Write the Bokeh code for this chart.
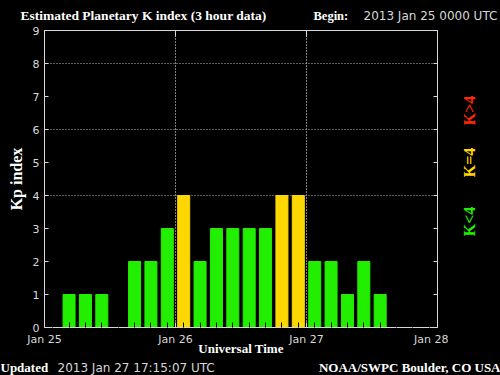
import math
from bokeh.plotting import figure
from bokeh.models import (ColumnDataSource, FixedTicker, LinearAxis, Range1d, Grid)
from bokeh.layouts import column, row
from bokeh.core.properties import value
from bokeh.embed import file_html
from bokeh.resources import INLINE

# ---- data ----
title_text = "Estimated Planetary K index (3 hour data)"
begin_label = "2013 Jan 25 0000 UTC"
updated_label = "2013 Jan 27 17:15:07 UTC"
credit_text = "NOAA/SWPC Boulder, CO USA"
day_ticks = [0, 24, 48, 72]               # hours since begin
day_labels = ["Jan 25", "Jan 26", "Jan 27", "Jan 28"]
slot_hours = 3
kp_values = [0, 1, 1, 1, 0, 2, 2, 3,
             4, 2, 3, 3, 3, 3, 4, 4,
             2, 2, 1, 2, 1]
legend_texts = ["K<4", "K=4", "K>4"]
legend_colors = ["#22ee00", "#ffd700", "#ff2a00"]

# ---- layout (pixels) ----
W, H = 500, 375
TOP_H = 23
BOT_H = 17
MAIN_H = H - TOP_H - BOT_H
MAIN_W = 448
LEG_W = W - MAIN_W
FL, FR = 44, 437
FT, FB = 30, 327                      # frame top / bottom on the page
MB_TOP = FT - TOP_H
MB_BOT = TOP_H + MAIN_H - FB

AX = "#d8d8d8"
SERIF = "Liberation Serif"
SANS = "DejaVu Sans"
BLACK = {"background-color": "black"}


def colour(v):
    if v < 4:
        return legend_colors[0]
    if v == 4:
        return legend_colors[1]
    return legend_colors[2]


def strip(w, h, top=0, bottom=0):
    f = figure(width=w, height=h, x_range=Range1d(0, w),
               y_range=Range1d(0, h - top - bottom),
               output_backend="svg", toolbar_location=None,
               min_border=0, min_border_left=0, min_border_right=0,
               min_border_top=top, min_border_bottom=bottom,
               background_fill_color="black", border_fill_color="black",
               x_axis_location=None, y_axis_location=None, styles=BLACK)
    f.outline_line_color = None
    f.grid.visible = False
    return f


def txt(f, base, text, x, y, size, font=SERIF, style="bold", align="left",
        color="white", angle=0.0):
    # base: page y of the strip frame's bottom edge
    f.text(x=[x], y=[base - y], text=[text], text_font=value(font),
           text_font_style=style, text_font_size=f"{size}px",
           text_color=color, text_align=align, text_baseline="middle",
           angle=angle)


# ---- top strip ----
top = strip(W, TOP_H)
txt(top, TOP_H, title_text, 20, 15, 13.5)
txt(top, TOP_H, "Begin:", 313, 15, 12.5)
txt(top, TOP_H, begin_label, 363, 15, 12, font=SANS, style="normal", color=AX)

# ---- main plot ----
centers = [i * slot_hours + slot_hours / 2 for i in range(len(kp_values))]
src = ColumnDataSource(dict(x=centers, top=kp_values,
                            color=[colour(v) for v in kp_values]))

p = figure(width=MAIN_W, height=MAIN_H,
           min_border_left=FL, min_border_top=MB_TOP,
           min_border_right=MAIN_W - FR, min_border_bottom=MB_BOT,
           x_range=Range1d(day_ticks[0], day_ticks[-1]), y_range=Range1d(0, 9),
           output_backend="svg", toolbar_location=None,
           background_fill_color="black", border_fill_color="black",
           x_axis_location=None, y_axis_location=None, styles=BLACK)
p.outline_line_color = AX
p.xgrid.visible = False
p.ygrid.visible = False

p.vbar(x="x", top="top", width=2.2, bottom=0, color="color", source=src)

all_slots = [i * slot_hours + slot_hours / 2 for i in range(24)]


def mk_axis(ticks, minor=None, labels=True, overrides=None):
    ax = LinearAxis(ticker=FixedTicker(ticks=ticks, minor_ticks=minor or []))
    ax.axis_line_color = AX
    ax.major_tick_line_color = AX
    ax.major_tick_in = 5
    ax.major_tick_out = 0
    ax.minor_tick_in = 5
    ax.minor_tick_out = 0
    ax.minor_tick_line_color = "black"
    ax.major_label_text_color = AX
    ax.major_label_text_font = SANS
    ax.major_label_text_font_size = "11px"
    ax.axis_label_text_color = "white"
    ax.axis_label_text_font = SERIF
    ax.axis_label_text_font_style = "bold"
    if overrides:
        ax.major_label_overrides = overrides
    if not labels:
        ax.major_label_overrides = {t: "" for t in ticks}
        ax.major_label_text_font_size = "0px"
        ax.major_label_standoff = 0
        ax.axis_label_standoff = 0
    return ax


xb = mk_axis(day_ticks, minor=all_slots,
             overrides={t: l for t, l in zip(day_ticks, day_labels)})
xb.major_label_standoff = 5
xb.axis_label = "Universal Time"
xb.axis_label_text_font_size = "13px"
xb.axis_label_standoff = -8
p.add_layout(xb, "below")

xt = mk_axis(day_ticks, labels=False)
xt.major_tick_in = 6
p.add_layout(xt, "above")

yl = mk_axis(list(range(10)))
yl.major_tick_in = 4
yl.major_label_standoff = 5
yl.axis_label = "Kp index"
yl.axis_label_text_font_size = "16px"
yl.axis_label_standoff = 5
p.add_layout(yl, "left")

yr = mk_axis(list(range(10)), labels=False)
yr.major_tick_in = 4
p.add_layout(yr, "right")

p.add_layout(Grid(dimension=0, ticker=FixedTicker(ticks=day_ticks[1:-1]),
                  grid_line_color="white", grid_line_dash="1 2"))
p.add_layout(Grid(dimension=1, ticker=FixedTicker(ticks=[4, 6, 8]),
                  grid_line_color="#bbbbbb", grid_line_dash="1 2"))

# ---- right legend strip (frame aligned with the plot frame) ----
leg = strip(LEG_W, MAIN_H, top=MB_TOP, bottom=MB_BOT)
for t, c, cy in zip(legend_texts, legend_colors, [221, 162, 110]):
    txt(leg, FB, t, 469 - MAIN_W, cy, 16, align="center", color=c,
        angle=math.pi / 2)

# ---- bottom strip ----
bot = strip(W, BOT_H)
txt(bot, H, "Updated", 0, 367, 13)
txt(bot, H, updated_label, 57, 367, 12, font=SANS, style="normal", color=AX)
txt(bot, H, credit_text, W, 367, 13, align="right")

layout = column(top, row(p, leg, spacing=0, styles=BLACK), bot,
                spacing=0, styles=BLACK)
open("out.html", "w").write(file_html(layout, INLINE))
